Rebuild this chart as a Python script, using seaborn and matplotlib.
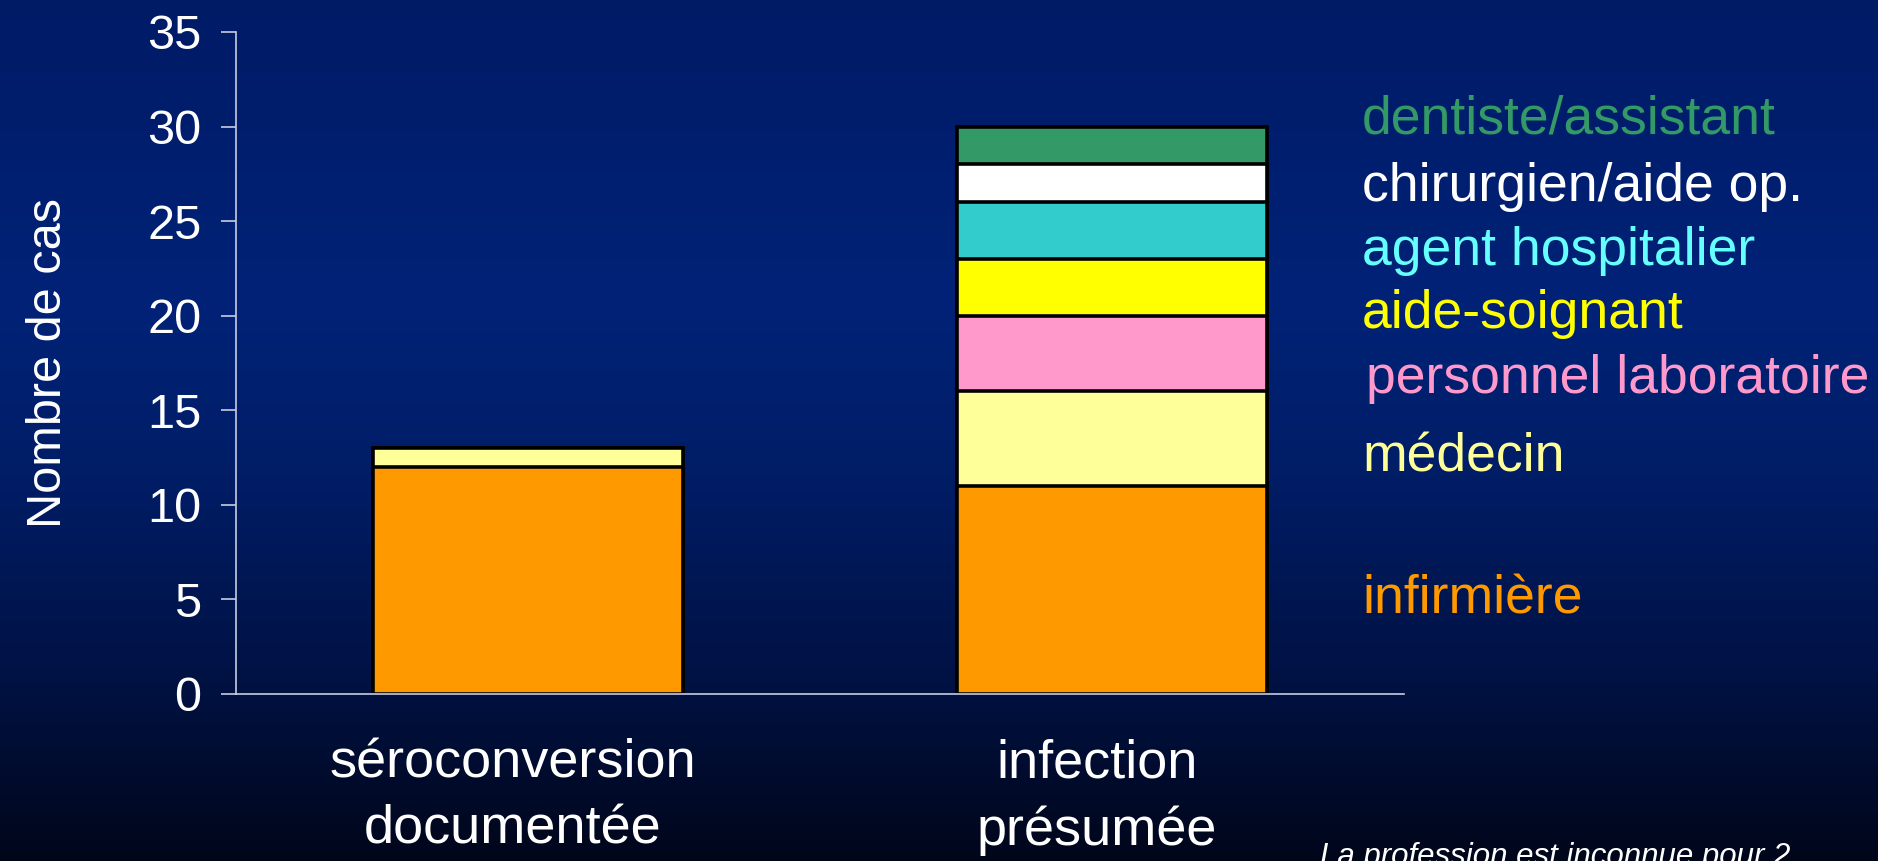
import numpy as np
import pandas as pd
import seaborn as sns
from matplotlib import pyplot as plt
from matplotlib import transforms
from matplotlib.colors import LinearSegmentedColormap

groupes = ['séroconversion\ndocumentée', 'infection\nprésumée']
professions = ['infirmière', 'médecin', 'personnel laboratoire', 'aide-soignant',
               'agent hospitalier', 'chirurgien/aide op.', 'dentiste/assistant']
cas_seroconversion = [12, 1, 0, 0, 0, 0, 0]
cas_presumee = [11, 5, 4, 3, 3, 2, 2]
couleurs_barres = ['#FF9900', '#FFFF99', '#FF99CC', '#FFFF00', '#33CCCC', '#FFFFFF', '#339966']
couleurs_textes = ['#FF9900', '#FFFF99', '#FF99CC', '#FFFF00', '#66FFFF', '#FFFFFF', '#339966']
y_ticks = [0, 5, 10, 15, 20, 25, 30, 35]
note = 'La profession est inconnue pour 2'

sns.set_theme(style='white')
plt.rcParams['font.family'] = ['Liberation Sans', 'DejaVu Sans']

# long table with cumulative heights for the stacked bars
rows = []
for g, vals in zip(groupes, [cas_seroconversion, cas_presumee]):
    cum = np.cumsum(vals)
    for p, c in zip(professions, cum):
        rows.append((g, p, c))
df = pd.DataFrame(rows, columns=['groupe', 'profession', 'cumul'])

fig = plt.figure(figsize=(18.78, 8.61), dpi=100)

# gradient background
bg = fig.add_axes([0, 0, 1, 1], zorder=-10)
cmap = LinearSegmentedColormap.from_list('fond', [
    (0.0, '#001b66'), (0.35, '#002277'), (0.55, '#001d66'),
    (0.78, '#001245'), (1.0, '#00061a')])
bg.imshow(np.linspace(0, 1, 256).reshape(-1, 1), aspect='auto', cmap=cmap,
          extent=[0, 1, 0, 1])
bg.set_axis_off()

ax = fig.add_axes([0.1257, 0.194, 0.6219, 0.7689])
ax.set_facecolor('none')

for p, col in reversed(list(zip(professions, couleurs_barres))):
    sns.barplot(data=df[df['profession'] == p], x='groupe', y='cumul', order=groupes,
                color=col, saturation=1, errorbar=None, width=0.53,
                edgecolor='black', linewidth=2.6, ax=ax)

ax.set_xlim(-0.5, 1.5)
ax.set_ylim(0, 35)
ax.set_yticks(y_ticks)
ax.set_xlabel('')
ax.set_ylabel('Nombre de cas', fontsize=35, color='white')
ax.yaxis.set_label_coords(-0.141, 0.5)

for s in ['top', 'right']:
    ax.spines[s].set_visible(False)
for s in ['left', 'bottom']:
    ax.spines[s].set_color('#c8cce0')
    ax.spines[s].set_linewidth(1.2)

ax.tick_params(axis='y', colors='#c8cce0', labelcolor='white', labelsize=35,
               length=11, width=1.2, pad=14, left=True)
ax.tick_params(axis='x', length=0, pad=32, labelcolor='white', labelsize=39)
shift = transforms.ScaledTranslation(-0.15, 0, fig.dpi_scale_trans)
for lab in ax.get_xticklabels():
    lab.set_linespacing(1.42)
    lab.set_transform(lab.get_transform() + shift)

# category labels on the right, in the colours of the segments
label_y = [599, 458, 379, 314, 251, 187, 120]
label_x = [1362, 1362, 1366, 1362, 1362, 1362, 1362]
for p, col, x, y in zip(professions, couleurs_textes, label_x, label_y):
    fig.text(x / 1878, 1 - y / 861, p, color=col, fontsize=38.5, va='center', ha='left')

fig.text(1320 / 1878, 1 - 842 / 861, note, color='white', fontsize=22.5,
         style='italic', va='top', ha='left')

fig.savefig('out.png', dpi=100)
